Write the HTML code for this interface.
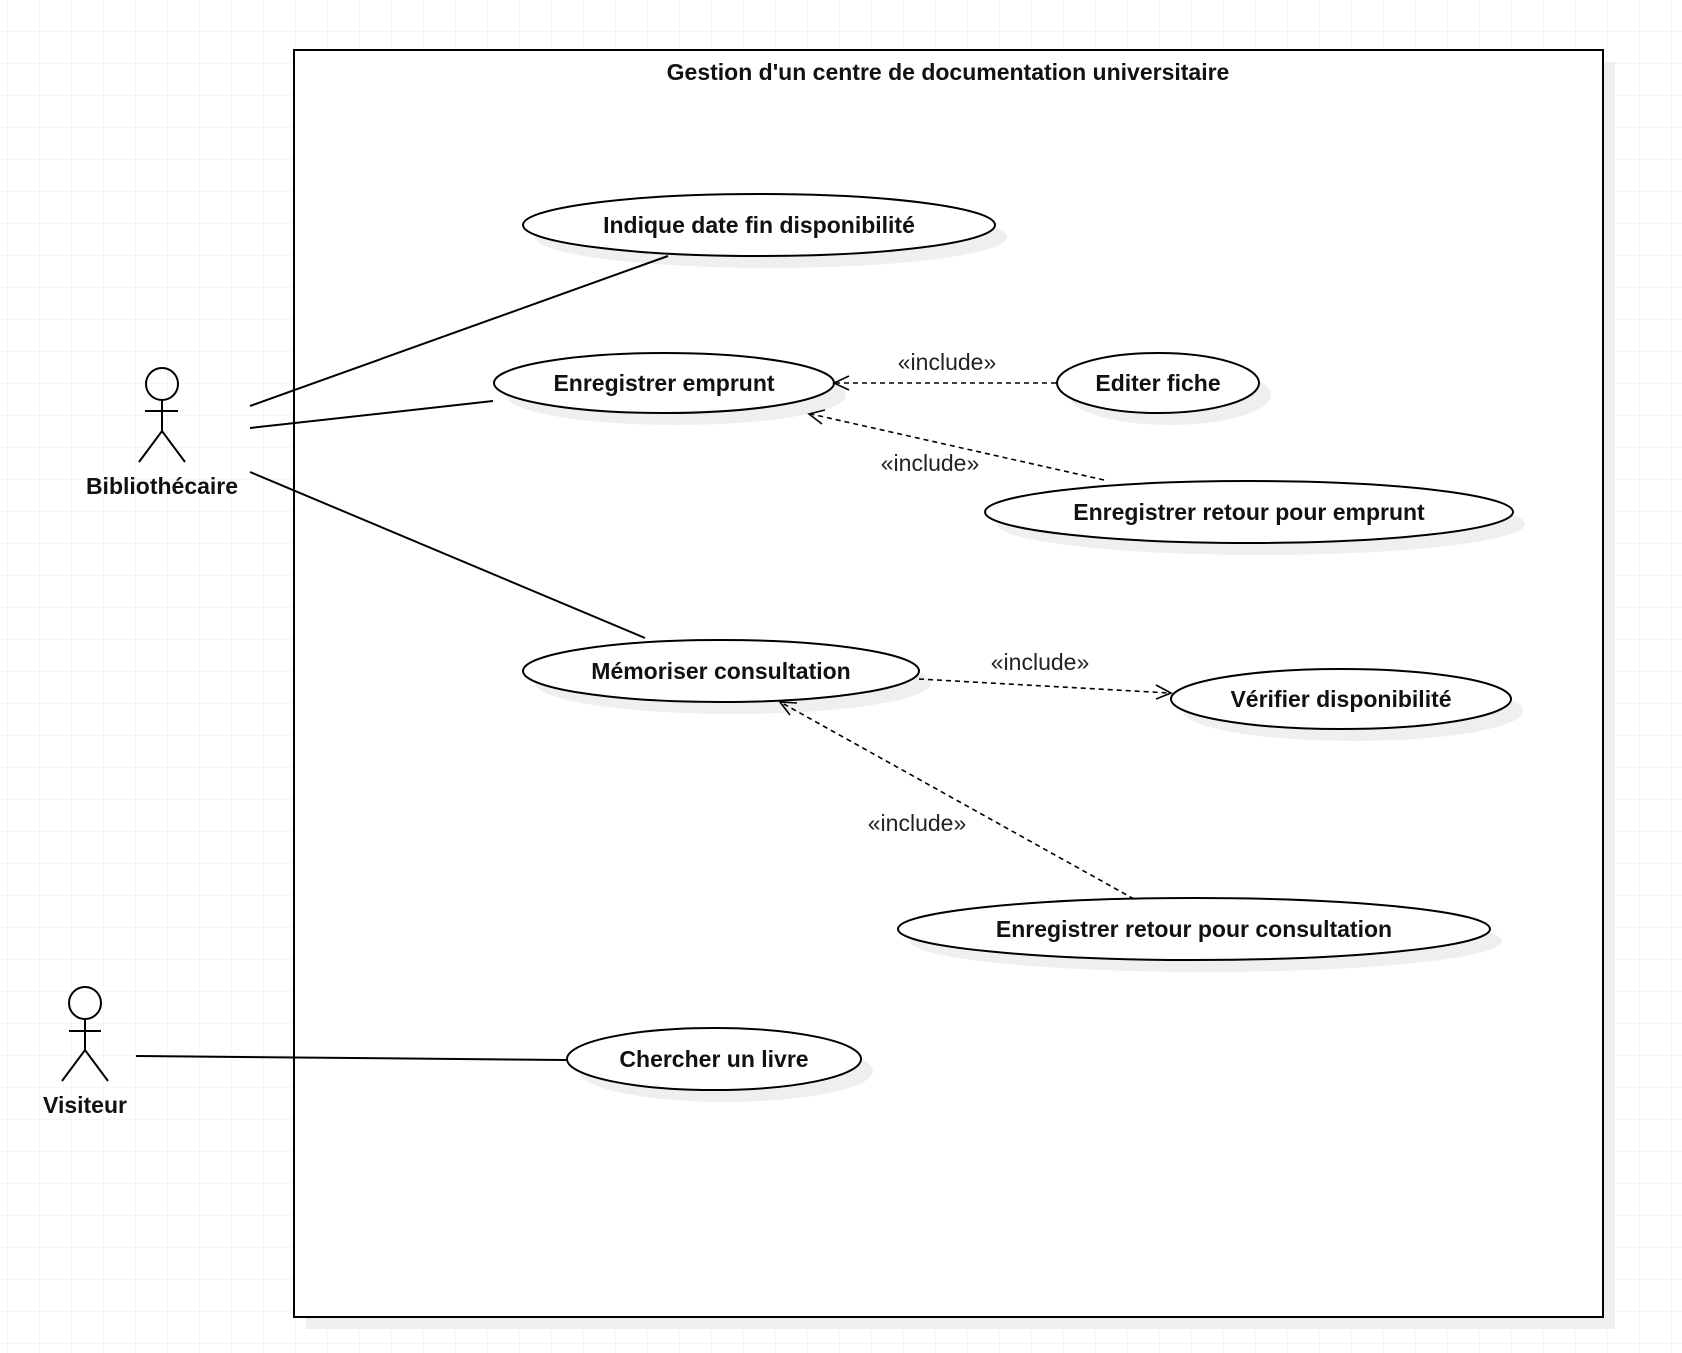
<!DOCTYPE html>
<html><head><meta charset="utf-8"><style>
html,body{margin:0;padding:0;background:#fff;}
svg{display:block;}
text{font-family:"Liberation Sans",Arial,sans-serif;}
.b{font-weight:bold;font-size:23px;fill:#111;}
.i{font-size:23px;fill:#222;}
</style></head><body>
<svg width="1682" height="1353" viewBox="0 0 1682 1353" xmlns="http://www.w3.org/2000/svg">
<defs>
<pattern id="g" x="7" y="31" width="32" height="32" patternUnits="userSpaceOnUse">
<path d="M0 0H32M0 0V32" stroke="#ececec" stroke-width="1" fill="none"/>
</pattern>
</defs>
<rect width="1682" height="1353" fill="url(#g)"/>
<rect x="306" y="62" width="1309" height="1267" fill="#efefef"/>
<rect x="294" y="50" width="1309" height="1267" fill="#fff" stroke="#000" stroke-width="2"/>
<text x="948" y="80" text-anchor="middle" class="b">Gestion d'un centre de documentation universitaire</text>

<g fill="#efefef">
<ellipse cx="771" cy="237" rx="236" ry="31"/>
<ellipse cx="676" cy="395" rx="170" ry="30"/>
<ellipse cx="1170" cy="395" rx="101" ry="30"/>
<ellipse cx="1261" cy="524" rx="264" ry="31"/>
<ellipse cx="733" cy="683" rx="198" ry="31"/>
<ellipse cx="1353" cy="711" rx="170" ry="30"/>
<ellipse cx="1206" cy="941" rx="296" ry="31"/>
<ellipse cx="726" cy="1071" rx="147" ry="31"/>
</g>
<g fill="#fff" stroke="#000" stroke-width="2">
<ellipse cx="759" cy="225" rx="236" ry="31"/>
<ellipse cx="664" cy="383" rx="170" ry="30"/>
<ellipse cx="1158" cy="383" rx="101" ry="30"/>
<ellipse cx="1249" cy="512" rx="264" ry="31"/>
<ellipse cx="721" cy="671" rx="198" ry="31"/>
<ellipse cx="1341" cy="699" rx="170" ry="30"/>
<ellipse cx="1194" cy="929" rx="296" ry="31"/>
<ellipse cx="714" cy="1059" rx="147" ry="31"/>
</g>
<g text-anchor="middle">
<text x="759" y="233" class="b">Indique date fin disponibilité</text>
<text x="664" y="391" class="b">Enregistrer emprunt</text>
<text x="1158" y="391" class="b">Editer fiche</text>
<text x="1249" y="520" class="b">Enregistrer retour pour emprunt</text>
<text x="721" y="679" class="b">Mémoriser consultation</text>
<text x="1341" y="707" class="b">Vérifier disponibilité</text>
<text x="1194" y="937" class="b">Enregistrer retour pour consultation</text>
<text x="714" y="1067" class="b">Chercher un livre</text>
</g>

<g stroke="#000" stroke-width="2" fill="none">
<circle cx="162" cy="384" r="16"/>
<path d="M162 400V431M145 411H178M139 462L162 431L185 462"/>
<circle cx="85" cy="1003" r="16"/>
<path d="M85 1019V1050M69 1031H101M62 1081L85 1050L108 1081"/>
<path d="M250 406L668 256M250 428L493 401M250 472L645 638M136 1056L566 1060"/>
</g>
<text x="162" y="494" text-anchor="middle" class="b">Bibliothécaire</text>
<text x="85" y="1113" text-anchor="middle" class="b">Visiteur</text>

<g stroke="#000" stroke-width="1.6" fill="none" stroke-dasharray="5 4">
<path d="M1056 383L836 383"/>
<path d="M1104 480L811 414"/>
<path d="M919 679L1169 693"/>
<path d="M1134 899L782 703"/>
</g>
<g stroke="#000" stroke-width="1.6" fill="none">
<path d="M849 376L834 383L849 390"/>
<path d="M825 410L809 414L822 424"/>
<path d="M1156 699L1171 693L1156 685"/>
<path d="M797 703L780 702L790 715"/>
</g>
<g text-anchor="middle">
<text x="947" y="370" class="i">«include»</text>
<text x="930" y="471" class="i">«include»</text>
<text x="1040" y="670" class="i">«include»</text>
<text x="917" y="831" class="i">«include»</text>
</g>
</svg>
</body></html>
